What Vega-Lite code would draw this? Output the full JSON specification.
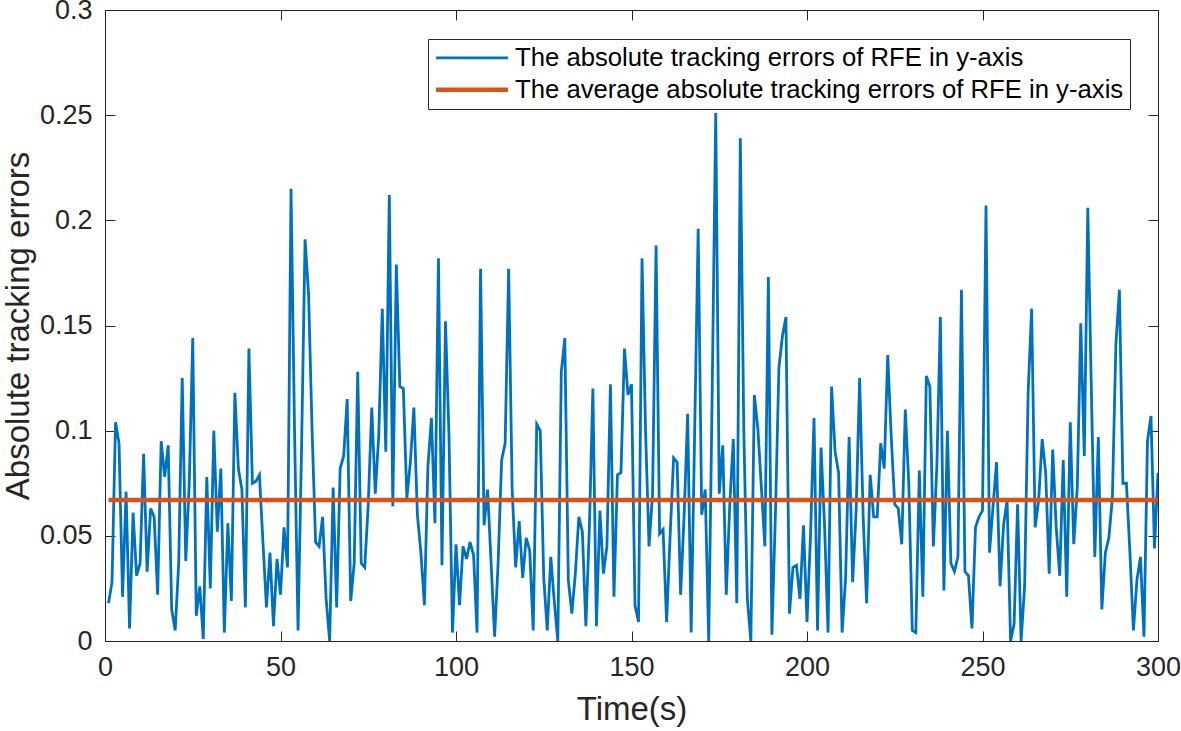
{
  "$schema": "https://vega.github.io/schema/vega-lite/v6.json",
  "width": 1053,
  "height": 631,
  "autosize": {"type": "none"},
  "padding": {"left": 105, "top": 10, "right": 23, "bottom": 90},
  "background": "white",
  "config": {
    "font": "Liberation Sans",
    "view": {"stroke": "#262626", "strokeWidth": 1},
    "axis": {
      "grid": false,
      "domainColor": "#262626",
      "tickColor": "#262626",
      "tickSize": -10,
      "labelFlush": false,
      "labelColor": "#262626",
      "labelFontSize": 27,
      "labelFont": "Liberation Sans",
      "titleFont": "Liberation Sans",
      "titleFontSize": 33,
      "titleFontWeight": "normal",
      "titleColor": "#262626"
    }
  },
  "datasets": {
    "err": [
      {"t":1,"e":0.018},{"t":2,"e":0.028},{"t":3,"e":0.104},{"t":4,"e":0.094},{"t":5,"e":0.021},{"t":6,"e":0.071},{"t":7,"e":0.006},{"t":8,"e":0.061},{"t":9,"e":0.031},{"t":10,"e":0.037},
      {"t":11,"e":0.089},{"t":12,"e":0.033},{"t":13,"e":0.063},{"t":14,"e":0.059},{"t":15,"e":0.022},{"t":16,"e":0.095},{"t":17,"e":0.078},{"t":18,"e":0.093},{"t":19,"e":0.015},{"t":20,"e":0.005},
      {"t":21,"e":0.037},{"t":22,"e":0.125},{"t":23,"e":0.038},{"t":24,"e":0.075},{"t":25,"e":0.144},{"t":26,"e":0.012},{"t":27,"e":0.026},{"t":28,"e":0.001},{"t":29,"e":0.078},{"t":30,"e":0.025},
      {"t":31,"e":0.1},{"t":32,"e":0.052},{"t":33,"e":0.082},{"t":34,"e":0.004},{"t":35,"e":0.056},{"t":36,"e":0.019},{"t":37,"e":0.118},{"t":38,"e":0.082},{"t":39,"e":0.072},{"t":40,"e":0.016},
      {"t":41,"e":0.139},{"t":42,"e":0.075},{"t":43,"e":0.076},{"t":44,"e":0.079},{"t":45,"e":0.047},{"t":46,"e":0.016},{"t":47,"e":0.042},{"t":48,"e":0.007},{"t":49,"e":0.039},{"t":50,"e":0.022},
      {"t":51,"e":0.054},{"t":52,"e":0.035},{"t":53,"e":0.215},{"t":54,"e":0.1},{"t":55,"e":0.005},{"t":56,"e":0.092},{"t":57,"e":0.191},{"t":58,"e":0.165},{"t":59,"e":0.1},{"t":60,"e":0.047},
      {"t":61,"e":0.045},{"t":62,"e":0.059},{"t":63,"e":0.02},{"t":64,"e":0.0},{"t":65,"e":0.073},{"t":66,"e":0.016},{"t":67,"e":0.082},{"t":68,"e":0.088},{"t":69,"e":0.115},{"t":70,"e":0.019},
      {"t":71,"e":0.037},{"t":72,"e":0.128},{"t":73,"e":0.037},{"t":74,"e":0.035},{"t":75,"e":0.065},{"t":76,"e":0.111},{"t":77,"e":0.07},{"t":78,"e":0.098},{"t":79,"e":0.158},{"t":80,"e":0.09},
      {"t":81,"e":0.212},{"t":82,"e":0.064},{"t":83,"e":0.179},{"t":84,"e":0.121},{"t":85,"e":0.12},{"t":86,"e":0.068},{"t":87,"e":0.085},{"t":88,"e":0.111},{"t":89,"e":0.06},{"t":90,"e":0.042},
      {"t":91,"e":0.017},{"t":92,"e":0.083},{"t":93,"e":0.106},{"t":94,"e":0.056},{"t":95,"e":0.182},{"t":96,"e":0.036},{"t":97,"e":0.152},{"t":98,"e":0.098},{"t":99,"e":0.004},{"t":100,"e":0.046},
      {"t":101,"e":0.017},{"t":102,"e":0.045},{"t":103,"e":0.039},{"t":104,"e":0.047},{"t":105,"e":0.041},{"t":106,"e":0.004},{"t":107,"e":0.177},{"t":108,"e":0.055},{"t":109,"e":0.072},{"t":110,"e":0.037},
      {"t":111,"e":0.002},{"t":112,"e":0.037},{"t":113,"e":0.086},{"t":114,"e":0.094},{"t":115,"e":0.177},{"t":116,"e":0.072},{"t":117,"e":0.035},{"t":118,"e":0.057},{"t":119,"e":0.03},{"t":120,"e":0.049},
      {"t":121,"e":0.043},{"t":122,"e":0.005},{"t":123,"e":0.103},{"t":124,"e":0.1},{"t":125,"e":0.03},{"t":126,"e":0.005},{"t":127,"e":0.04},{"t":128,"e":0.019},{"t":129,"e":0.0},{"t":130,"e":0.128},
      {"t":131,"e":0.144},{"t":132,"e":0.029},{"t":133,"e":0.013},{"t":134,"e":0.032},{"t":135,"e":0.059},{"t":136,"e":0.052},{"t":137,"e":0.007},{"t":138,"e":0.054},{"t":139,"e":0.12},{"t":140,"e":0.007},
      {"t":141,"e":0.062},{"t":142,"e":0.032},{"t":143,"e":0.045},{"t":144,"e":0.122},{"t":145,"e":0.021},{"t":146,"e":0.079},{"t":147,"e":0.08},{"t":148,"e":0.139},{"t":149,"e":0.117},{"t":150,"e":0.122},
      {"t":151,"e":0.017},{"t":152,"e":0.009},{"t":153,"e":0.182},{"t":154,"e":0.1},{"t":155,"e":0.045},{"t":156,"e":0.07},{"t":157,"e":0.188},{"t":158,"e":0.051},{"t":159,"e":0.053},{"t":160,"e":0.009},
      {"t":161,"e":0.05},{"t":162,"e":0.087},{"t":163,"e":0.085},{"t":164,"e":0.022},{"t":165,"e":0.06},{"t":166,"e":0.108},{"t":167,"e":0.004},{"t":168,"e":0.1},{"t":169,"e":0.196},{"t":170,"e":0.06},
      {"t":171,"e":0.072},{"t":172,"e":0.0},{"t":173,"e":0.12},{"t":174,"e":0.251},{"t":175,"e":0.07},{"t":176,"e":0.093},{"t":177,"e":0.022},{"t":178,"e":0.065},{"t":179,"e":0.096},{"t":180,"e":0.018},
      {"t":181,"e":0.239},{"t":182,"e":0.1},{"t":183,"e":0.02},{"t":184,"e":0.0},{"t":185,"e":0.117},{"t":186,"e":0.101},{"t":187,"e":0.073},{"t":188,"e":0.045},{"t":189,"e":0.173},{"t":190,"e":0.003},
      {"t":191,"e":0.06},{"t":192,"e":0.13},{"t":193,"e":0.145},{"t":194,"e":0.154},{"t":195,"e":0.013},{"t":196,"e":0.035},{"t":197,"e":0.036},{"t":198,"e":0.02},{"t":199,"e":0.055},{"t":200,"e":0.009},
      {"t":201,"e":0.05},{"t":202,"e":0.106},{"t":203,"e":0.005},{"t":204,"e":0.092},{"t":205,"e":0.055},{"t":206,"e":0.004},{"t":207,"e":0.121},{"t":208,"e":0.09},{"t":209,"e":0.08},{"t":210,"e":0.004},
      {"t":211,"e":0.03},{"t":212,"e":0.097},{"t":213,"e":0.028},{"t":214,"e":0.062},{"t":215,"e":0.125},{"t":216,"e":0.059},{"t":217,"e":0.018},{"t":218,"e":0.079},{"t":219,"e":0.059},{"t":220,"e":0.059},
      {"t":221,"e":0.094},{"t":222,"e":0.082},{"t":223,"e":0.136},{"t":224,"e":0.097},{"t":225,"e":0.065},{"t":226,"e":0.063},{"t":227,"e":0.046},{"t":228,"e":0.11},{"t":229,"e":0.075},{"t":230,"e":0.005},
      {"t":231,"e":0.004},{"t":232,"e":0.081},{"t":233,"e":0.021},{"t":234,"e":0.126},{"t":235,"e":0.121},{"t":236,"e":0.045},{"t":237,"e":0.083},{"t":238,"e":0.154},{"t":239,"e":0.024},{"t":240,"e":0.1},
      {"t":241,"e":0.037},{"t":242,"e":0.033},{"t":243,"e":0.04},{"t":244,"e":0.167},{"t":245,"e":0.033},{"t":246,"e":0.031},{"t":247,"e":0.006},{"t":248,"e":0.054},{"t":249,"e":0.059},{"t":250,"e":0.062},
      {"t":251,"e":0.207},{"t":252,"e":0.042},{"t":253,"e":0.064},{"t":254,"e":0.085},{"t":255,"e":0.026},{"t":256,"e":0.055},{"t":257,"e":0.067},{"t":258,"e":0.0},{"t":259,"e":0.008},{"t":260,"e":0.065},
      {"t":261,"e":0.0},{"t":262,"e":0.026},{"t":263,"e":0.118},{"t":264,"e":0.158},{"t":265,"e":0.054},{"t":266,"e":0.067},{"t":267,"e":0.096},{"t":268,"e":0.08},{"t":269,"e":0.032},{"t":270,"e":0.091},
      {"t":271,"e":0.054},{"t":272,"e":0.031},{"t":273,"e":0.086},{"t":274,"e":0.021},{"t":275,"e":0.104},{"t":276,"e":0.046},{"t":277,"e":0.073},{"t":278,"e":0.151},{"t":279,"e":0.088},{"t":280,"e":0.206},
      {"t":281,"e":0.12},{"t":282,"e":0.04},{"t":283,"e":0.097},{"t":284,"e":0.015},{"t":285,"e":0.042},{"t":286,"e":0.049},{"t":287,"e":0.068},{"t":288,"e":0.141},{"t":289,"e":0.167},{"t":290,"e":0.075},
      {"t":291,"e":0.075},{"t":292,"e":0.042},{"t":293,"e":0.005},{"t":294,"e":0.029},{"t":295,"e":0.04},{"t":296,"e":0.002},{"t":297,"e":0.095},{"t":298,"e":0.107},{"t":299,"e":0.044},{"t":300,"e":0.08}
    ],
    "avg": [
      {"t":1,"e":0.067},{"t":300,"e":0.067}
    ]
  },
  "resolve": {"axis": {"x": "independent", "y": "independent"}},
  "layer": [
    {
      "data": {"name": "err"},
      "transform": [{"calculate": "'The absolute tracking errors of RFE in y-axis'", "as": "series"}],
      "mark": {"type": "line", "strokeWidth": 2.8, "clip": true},
      "encoding": {
        "x": {"field": "t", "type": "quantitative", "scale": {"domain": [0, 300], "nice": false, "zero": false},
              "axis": {"orient": "bottom", "values": [0,50,100,150,200,250,300], "title": "Time(s)", "labelPadding": 23, "titlePadding": 13}},
        "y": {"field": "e", "type": "quantitative", "scale": {"domain": [0, 0.3], "nice": false, "zero": false},
              "axis": {"orient": "left", "values": [0,0.05,0.1,0.15,0.2,0.25,0.3], "format": "~g", "title": "Absolute tracking errors", "labelPadding": 23, "titlePadding": 4}},
        "color": {
          "field": "series", "type": "nominal",
          "scale": {"domain": ["The absolute tracking errors of RFE in y-axis", "The average absolute tracking errors of RFE in y-axis"], "range": ["#0072BD", "#D95319"]},
          "legend": {
            "orient": "none", "legendX": 323, "legendY": 29, "title": null,
            "symbolType": "stroke", "symbolSize": 5184, "symbolStrokeWidth": 3,
            "labelFontSize": 25.7, "labelColor": "#000000", "labelFont": "Liberation Sans", "labelOffset": 6, "labelLimit": 900,
            "strokeColor": "#262626", "fillColor": "white", "padding": 6, "rowPadding": 5,
            "encode": {
              "symbols": {"update": {"x": {"value": 38}, "strokeWidth": {"signal": "datum.index === 1 ? 4.5 : 2.8"}}},
              "labels": {"update": {"x": {"value": 81}}}
            }
          }
        }
      }
    },
    {
      "data": {"name": "avg"},
      "transform": [{"calculate": "'The average absolute tracking errors of RFE in y-axis'", "as": "series"}],
      "mark": {"type": "line", "strokeWidth": 4.5},
      "encoding": {
        "x": {"field": "t", "type": "quantitative", "scale": {"domain": [0, 300], "nice": false, "zero": false},
              "axis": {"orient": "top", "values": [0,50,100,150,200,250,300], "labels": false, "title": null}},
        "y": {"field": "e", "type": "quantitative", "scale": {"domain": [0, 0.3], "nice": false, "zero": false},
              "axis": {"orient": "right", "values": [0,0.05,0.1,0.15,0.2,0.25,0.3], "labels": false, "title": null}},
        "color": {"field": "series", "type": "nominal"}
      }
    }
  ]
}
